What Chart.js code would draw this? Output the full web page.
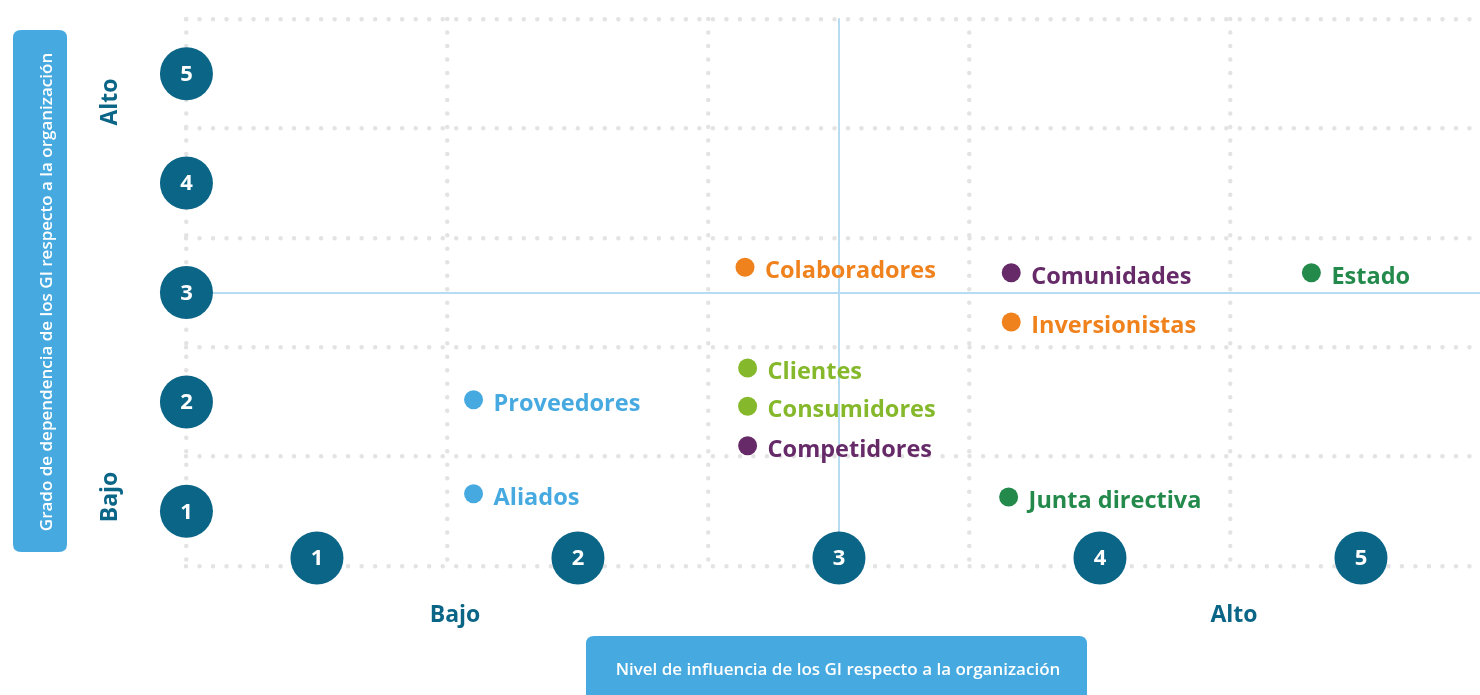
<!DOCTYPE html>
<html lang="es">
<head>
<meta charset="utf-8">
<title>Matriz de grupos de interés</title>
<script src="https://cdn.jsdelivr.net/npm/chart.js@4.4.0/dist/chart.umd.min.js"></script>
<style>
  html, body { margin: 0; padding: 0; background: #ffffff; }
  #wrap { position: relative; width: 1480px; height: 695px; }
</style>
</head>
<body>
<div id="wrap"><canvas id="matrixChart"></canvas></div>
<script>
// Stakeholder groups and their position on the matrix
const groups = ['Colaboradores', 'Comunidades', 'Estado', 'Inversionistas', 'Clientes',
                'Consumidores', 'Competidores', 'Proveedores', 'Aliados', 'Junta directiva'];
const influence = [2.64, 3.66, 4.81, 3.66, 2.65, 2.65, 2.65, 1.60, 1.60, 3.65];
const dependence = [3.23, 3.18, 3.18, 2.73, 2.31, 1.96, 1.60, 2.02, 1.16, 1.13];
const groupColors = ['#f0821e', '#662a68', '#238a4c', '#f0821e', '#85b82b',
                     '#85b82b', '#662a68', '#46aae1', '#46aae1', '#238a4c'];

// Axis tick labels and texts
const scaleTicks = [1, 2, 3, 4, 5];
const levelLabels = ['Bajo', 'Alto'];
const xTitle = 'Nivel de influencia de los GI respecto a la organización';
const yTitle = 'Grado de dependencia de los GI respecto a la organización';

const DARK = '#0a6587';
const BOX = '#46aae1';
const FONT = '"Open Sans", "Noto Sans", sans-serif';

// half-step ticks so the dotted grid falls between the numbered circles
function halfSteps(scale) {
    const ticks = [];
    for (let v = 0.5; v <= 5.5; v += 0.5) ticks.push({ value: v });
    scale.ticks = ticks;
}

function gridColor(c) {
    if (c.tick.value === 3) return '#b5dcf2';
    return c.tick.value % 1 ? '#e3e3e3' : 'rgba(0,0,0,0)';
}
function gridWidth(c) {
    if (c.tick.value === 3) return 2;
    return c.tick.value % 1 ? 4.5 : 0;
}
function gridDash(c) {
    return c.tick && c.tick.value === 3 ? [] : [0.01, 13.5];
}

function roundRect(ctx, x, y, w, h, r) {
    ctx.beginPath();
    ctx.moveTo(x + r, y);
    ctx.lineTo(x + w - r, y);
    ctx.quadraticCurveTo(x + w, y, x + w, y + r);
    ctx.lineTo(x + w, y + h - r);
    ctx.quadraticCurveTo(x + w, y + h, x + w - r, y + h);
    ctx.lineTo(x + r, y + h);
    ctx.quadraticCurveTo(x, y + h, x, y + h - r);
    ctx.lineTo(x, y + r);
    ctx.quadraticCurveTo(x, y, x + r, y);
    ctx.closePath();
}

function numberCircle(ctx, x, y, n) {
    ctx.beginPath();
    ctx.arc(x, y, 26.5, 0, Math.PI * 2);
    ctx.fillStyle = DARK;
    ctx.fill();
    ctx.fillStyle = '#ffffff';
    ctx.font = `700 22px ${FONT}`;
    ctx.textAlign = 'center';
    ctx.textBaseline = 'middle';
    ctx.fillText(String(n), x, y + 1);
}

function rotatedText(ctx, text, x, y) {
    ctx.save();
    ctx.translate(x, y);
    ctx.rotate(-Math.PI / 2);
    ctx.fillText(text, 0, 0);
    ctx.restore();
}

const decorations = {
    id: 'decorations',
    beforeDraw(chart) {
        const ctx = chart.ctx;
        // round caps turn the zero-length dashes of the grid into dots
        ctx.lineCap = 'round';

        ctx.save();
        ctx.fillStyle = BOX;
        roundRect(ctx, 13, 30, 54, 522, 8);
        ctx.fill();
        roundRect(ctx, 586, 636, 501, 80, 8);
        ctx.fill();

        ctx.fillStyle = '#ffffff';
        ctx.textAlign = 'center';
        ctx.textBaseline = 'alphabetic';
        ctx.font = `600 17px ${FONT}`;
        ctx.fillText(xTitle, 838, 675);
        rotatedText(ctx, yTitle, 52, 292);
        ctx.restore();
    },
    afterDatasetsDraw(chart) {
        const ctx = chart.ctx;
        const meta = chart.getDatasetMeta(0);
        ctx.save();
        ctx.font = `700 23.5px ${FONT}`;
        ctx.textAlign = 'left';
        ctx.textBaseline = 'alphabetic';
        meta.data.forEach((pt, i) => {
            ctx.fillStyle = groupColors[i];
            ctx.fillText(groups[i], pt.x + 20, pt.y + 11);
        });
        ctx.restore();
    },
    afterDraw(chart) {
        const ctx = chart.ctx;
        const xs = chart.scales.x;
        const ys = chart.scales.y;
        const area = chart.chartArea;
        ctx.save();
        scaleTicks.forEach(v => {
            numberCircle(ctx, area.left, ys.getPixelForValue(v), v);
            numberCircle(ctx, xs.getPixelForValue(v), area.bottom - 8, v);
        });

        ctx.fillStyle = DARK;
        ctx.font = `700 23px ${FONT}`;
        ctx.textAlign = 'center';
        ctx.textBaseline = 'alphabetic';
        ctx.fillText(levelLabels[0], 455, 622);
        ctx.fillText(levelLabels[1], 1234, 622);
        rotatedText(ctx, levelLabels[1], 117, 102);
        rotatedText(ctx, levelLabels[0], 117, 497);
        ctx.restore();
    }
};

const points = influence.map((x, i) => ({ x: x, y: dependence[i] }));

new Chart(document.getElementById('matrixChart'), {
    type: 'scatter',
    data: {
        datasets: [{
            label: 'Grupos de interés',
            data: points,
            backgroundColor: groupColors,
            borderWidth: 0,
            pointRadius: 9.5,
            pointHoverRadius: 9.5
        }]
    },
    options: {
        responsive: true,
        maintainAspectRatio: false,
        animation: false,
        events: [],
        layout: {
            autoPadding: false,
            padding: { left: 186.45, right: 0, top: 19, bottom: 129 }
        },
        plugins: {
            legend: { display: false },
            tooltip: { enabled: false }
        },
        scales: {
            x: {
                type: 'linear',
                min: 0.5,
                max: 5.456,
                afterBuildTicks: halfSteps,
                ticks: { display: false },
                grid: { drawTicks: false, color: gridColor, lineWidth: gridWidth },
                border: { display: false, dash: gridDash }
            },
            y: {
                type: 'linear',
                min: 0.5,
                max: 5.5,
                afterBuildTicks: halfSteps,
                ticks: { display: false },
                grid: { drawTicks: false, color: gridColor, lineWidth: gridWidth },
                border: { display: false, dash: gridDash }
            }
        }
    },
    plugins: [decorations]
});
</script>
</body>
</html>
